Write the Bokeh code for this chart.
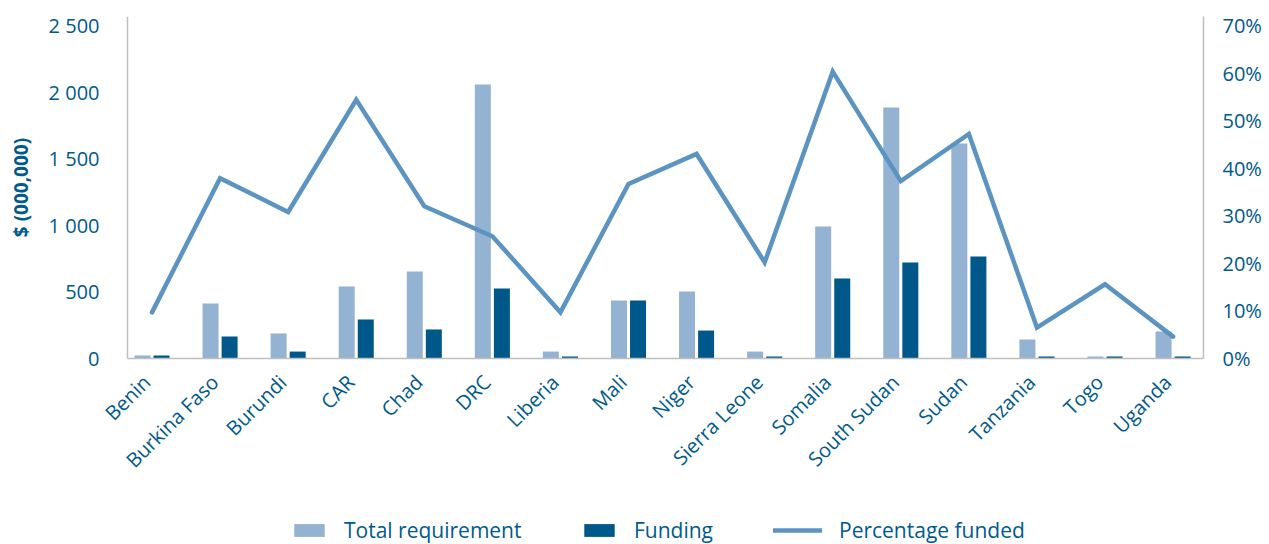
import math
from bokeh.plotting import figure
from bokeh.models import (Range1d, LinearAxis, FixedTicker, PrintfTickFormatter,
                          CustomJSTickFormatter, Legend, LegendItem, ColumnDataSource)
from bokeh.transform import dodge
from bokeh.embed import file_html
from bokeh.resources import INLINE

countries = ["Benin", "Burkina Faso", "Burundi", "CAR", "Chad", "DRC", "Liberia", "Mali",
             "Niger", "Sierra Leone", "Somalia", "South Sudan", "Sudan", "Tanzania", "Togo", "Uganda"]
total_requirement = [22, 413, 188, 540, 653, 2057, 52, 435, 503, 52, 991, 1884, 1614, 143, 15, 203]
funding = [22, 165, 52, 293, 218, 525, 15, 435, 210, 15, 600, 720, 766, 15, 15, 15]
pct_funded = [9.7, 37.9, 30.8, 54.4, 32.0, 25.7, 9.7, 36.7, 43.0, 20.2, 60.3, 37.3, 47.2, 6.5, 15.6, 4.6]
left_ticks = [0, 500, 1000, 1500, 2000, 2500]
left_tick_labels = ["0", "500", "1 000", "1 500", "2 000", "2 500"]
right_ticks = [0, 10, 20, 30, 40, 50, 60, 70]

idx = list(range(len(countries)))
src = ColumnDataSource(dict(x=idx, total=total_requirement, funding=funding, pct=pct_funded))

FONT = "Open Sans"
TXT = "#005A8C"
AX = "#BFBFBF"
LIGHT = "#94B2D1"
DARK = "#00578A"
LINE = "#5B93C1"

# plotting area: x 127..1203 px, y 16..358 px; the frame itself reaches the page's
# left and bottom edges so the category labels and legend are not clipped.
PX_PER_CAT = 68.07
X_AXIS_AT = -0.36
X_START = X_AXIS_AT - 127 / PX_PER_CAT
X_END = 15.447
Y_TOP = 2568
PCT_TOP = 71.9
Y_BOTTOM = -Y_TOP * 186 / 342
PCT_BOTTOM = -PCT_TOP * 186 / 342

p = figure(width=1269, height=544, output_backend="svg", toolbar_location=None,
           x_range=Range1d(X_START, X_END), y_range=Range1d(Y_BOTTOM, Y_TOP),
           min_border_left=0, min_border_right=66, min_border_top=16, min_border_bottom=0)
p.extra_y_ranges = {"pct": Range1d(PCT_BOTTOM, PCT_TOP)}
p.outline_line_color = None
p.xgrid.visible = False
p.ygrid.visible = False
p.background_fill_color = "white"
p.border_fill_color = "white"

def style(ax, size="20px"):
    ax.axis_line_color = AX
    ax.axis_line_width = 1.5
    ax.major_tick_line_color = None
    ax.minor_tick_line_color = None
    ax.major_label_text_font = FONT
    ax.major_label_text_font_size = size
    ax.major_label_text_color = TXT

ya = p.yaxis[0]
style(ya)
ya.fixed_location = X_AXIS_AT
ya.bounds = (0, Y_TOP)
ya.ticker = FixedTicker(ticks=left_ticks)
ya.major_label_overrides = {t: l for t, l in zip(left_ticks, left_tick_labels)}
ya.major_label_standoff = 22
ya.axis_label = "$ (000,000)"
ya.axis_label_text_font = FONT
ya.axis_label_text_font_style = "bold"
ya.axis_label_text_font_size = "19px"
ya.axis_label_text_color = TXT
ya.axis_label_standoff = 12

ra = LinearAxis(y_range_name="pct", ticker=FixedTicker(ticks=right_ticks),
                formatter=PrintfTickFormatter(format="%d%%"), bounds=(0, PCT_TOP))
style(ra)
ra.major_label_standoff = 13
p.add_layout(ra, "right")

xa = p.xaxis[0]
style(xa, "20px")
xa.fixed_location = 0
xa.bounds = (X_AXIS_AT, X_END)
xa.ticker = FixedTicker(ticks=[i - 0.08 for i in idx])
xa.formatter = CustomJSTickFormatter(args=dict(names=countries),
                                     code="return names[Math.round(tick)]")
xa.major_label_orientation = math.pi / 4
xa.major_label_standoff = 14

r1 = p.vbar(x=dodge("x", -0.14), top="total", width=0.235, source=src,
            fill_color=LIGHT, line_color=None)
r2 = p.vbar(x=dodge("x", 0.14), top="funding", width=0.235, source=src,
            fill_color=DARK, line_color=None)
r3 = p.line(x="x", y="pct", source=src, y_range_name="pct", line_color=LINE,
            line_width=4.5, line_join="miter", line_cap="round")

def add_legend(label, r, x, gw, gh, standoff):
    leg = Legend(items=[LegendItem(label=label, renderers=[r])], location=(x, 0),
                 orientation="horizontal", border_line_color=None, background_fill_alpha=0,
                 padding=0, margin=0, glyph_width=gw, glyph_height=gh, label_standoff=standoff,
                 label_height=20, label_text_font=FONT, label_text_font_size="21px",
                 label_text_color=TXT)
    p.add_layout(leg, "center")

add_legend("Total requirement", r1, 290, 38, 16, 16)
add_legend("Funding", r2, 580, 38, 16, 16)
add_legend("Percentage funded", r3, 773, 49, 16, 17)

open("out.html", "w").write(file_html(p, INLINE))
